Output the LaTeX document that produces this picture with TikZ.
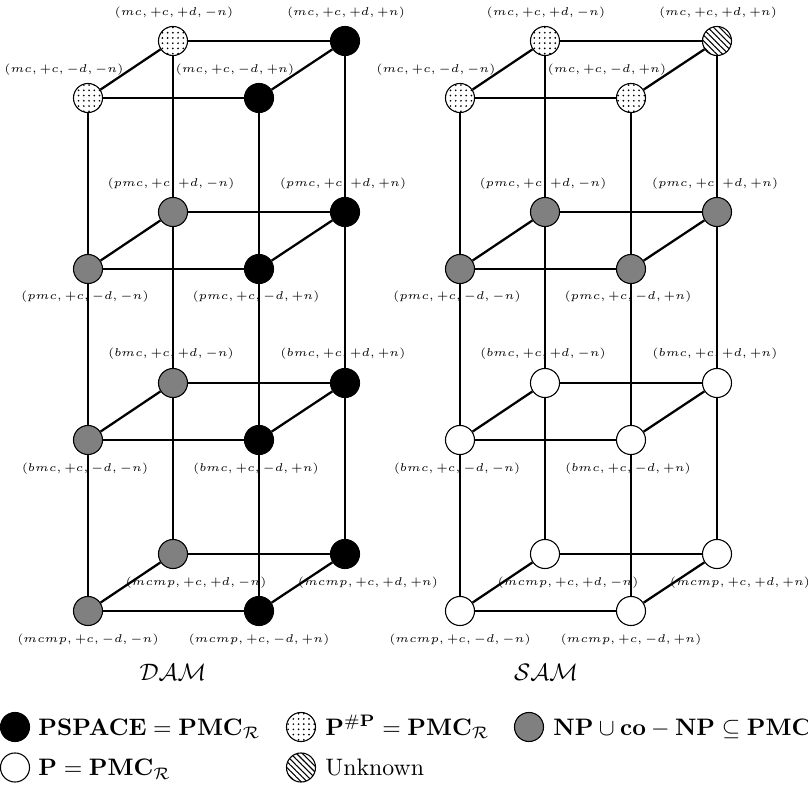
\RequirePackage{fix-cm}
\documentclass[tikz,border=0pt]{standalone}
\usetikzlibrary{patterns.meta}
\newcommand\lblfont{\fontsize{4.75pt}{5.5pt}\selectfont}
\begin{document}
\begin{tikzpicture}[x=0.42pt,y=-0.42pt,
  v/.style={circle,draw=black,line width=0.45pt,minimum size=12.2pt,inner sep=0pt},
  blk/.style={v,fill=black},
  gry/.style={v,fill=gray},
  wht/.style={v,fill=white},
  dot/.style={v,fill=white,postaction={pattern={Dots[distance=2.2pt,radius=0.4pt]}}},
  hat/.style={v,fill=white,postaction={pattern={Lines[angle=-45,distance=1.75pt,line width=0.45pt]}}},
  edge/.style={line width=0.95pt},
  lbl/.style={font=\lblfont,inner sep=0pt},
  leg/.style={anchor=base west,inner sep=0pt},
]
\fill[white] (0,0) rectangle (808,787);
\useasboundingbox (0,0) rectangle (808,787);

% ---------- left cube (DAM) ----------
\node[dot] (L-1-bl) at (173,41) {};
\node[blk] (L-1-br) at (345,41) {};
\node[dot] (L-1-fl) at (88,98) {};
\node[blk] (L-1-fr) at (259,98) {};
\node[gry] (L-2-bl) at (173,212) {};
\node[blk] (L-2-br) at (345,212) {};
\node[gry] (L-2-fl) at (88,269) {};
\node[blk] (L-2-fr) at (259,269) {};
\node[gry] (L-3-bl) at (173,383) {};
\node[blk] (L-3-br) at (345,383) {};
\node[gry] (L-3-fl) at (88,440) {};
\node[blk] (L-3-fr) at (259,440) {};
\node[gry] (L-4-bl) at (173,554) {};
\node[blk] (L-4-br) at (345,554) {};
\node[gry] (L-4-fl) at (88,611) {};
\node[blk] (L-4-fr) at (259,611) {};

% ---------- right cube (SAM) ----------
\node[dot] (R-1-bl) at (545,41) {};
\node[hat] (R-1-br) at (717,41) {};
\node[dot] (R-1-fl) at (460,98) {};
\node[dot] (R-1-fr) at (631,98) {};
\node[gry] (R-2-bl) at (545,212) {};
\node[gry] (R-2-br) at (717,212) {};
\node[gry] (R-2-fl) at (460,269) {};
\node[gry] (R-2-fr) at (631,269) {};
\node[wht] (R-3-bl) at (545,383) {};
\node[wht] (R-3-br) at (717,383) {};
\node[wht] (R-3-fl) at (460,440) {};
\node[wht] (R-3-fr) at (631,440) {};
\node[wht] (R-4-bl) at (545,554) {};
\node[wht] (R-4-br) at (717,554) {};
\node[wht] (R-4-fl) at (460,611) {};
\node[wht] (R-4-fr) at (631,611) {};

% ---------- edges ----------
\foreach \c in {L,R}{
  \foreach \l in {1,2,3,4}{
    \draw[edge] (\c-\l-fl) -- (\c-\l-fr);
    \draw[edge] (\c-\l-bl) -- (\c-\l-br);
    \draw[edge] (\c-\l-fl) -- (\c-\l-bl);
    \draw[edge] (\c-\l-fr) -- (\c-\l-br);
  }
  \foreach \k in {fl,fr,bl,br}{
    \draw[edge] (\c-1-\k) -- (\c-2-\k) -- (\c-3-\k) -- (\c-4-\k);
  }
}

% ---------- labels ----------
\foreach \c in {L,R}{
  \foreach \l/\nm/\bx/\by/\fx/\fy in {1/mc/1/-28/-24/-28, 2/pmc/-2/-28/-3/28, 3/bmc/-2/-29/-3/29, 4/mcmp/23/29/0/29}{
    \node[lbl] (\c-\l-bl-t) at ([shift={(\bx,\by)}]\c-\l-bl.center) {$(\nm,+c,+d,-n)$};
    \node[lbl] (\c-\l-br-t) at ([shift={(\bx,\by)}]\c-\l-br.center) {$(\nm,+c,+d,+n)$};
    \node[lbl] (\c-\l-fl-t) at ([shift={(\fx,\fy)}]\c-\l-fl.center) {$(\nm,+c,-d,-n)$};
    \node[lbl] (\c-\l-fr-t) at ([shift={(\fx,\fy)}]\c-\l-fr.center) {$(\nm,+c,-d,+n)$};
  }
}

\node (dam) at (173,672) {$\mathcal{DAM}$};
\node (sam) at (546,672) {$\mathcal{SAM}$};

% ---------- legend ----------
\node[blk] (lg1) at (15,727) {};
\node[leg] (lg1t) at (38,735) {$\mathbf{PSPACE}=\mathbf{PMC}_{\mathcal{R}}$};
\node[dot] (lg2) at (301,727) {};
\node[leg] (lg2t) at (325,735) {$\mathbf{P}^{\#\mathbf{P}}=\mathbf{PMC}_{\mathcal{R}}$};
\node[gry] (lg3) at (529,727) {};
\node[leg] (lg3t) at (553,735) {$\mathbf{NP}\cup\mathbf{co}-\mathbf{NP}\subseteq\mathbf{PMC}_{\mathcal{R}}$};
\node[wht] (lg4) at (15,767.5) {};
\node[leg] (lg4t) at (38,775.5) {$\mathbf{P}=\mathbf{PMC}_{\mathcal{R}}$};
\node[hat] (lg5) at (301,767.5) {};
\node[leg] (lg5t) at (325,775.5) {Unknown};
\end{tikzpicture}
\end{document}
